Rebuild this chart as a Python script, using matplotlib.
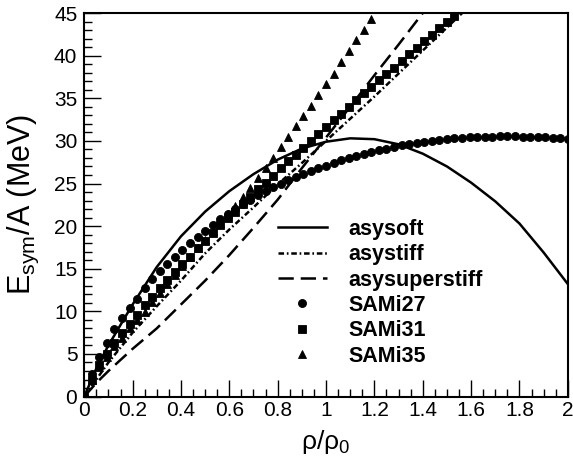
import numpy as np
import matplotlib
matplotlib.use("Agg")
from matplotlib import pyplot as plt
from matplotlib.legend_handler import HandlerLine2D
from matplotlib.ticker import MultipleLocator, FormatStrFormatter

plt.rcParams['font.family'] = ['Liberation Sans', 'DejaVu Sans']
plt.rcParams['mathtext.fontset'] = 'custom'
plt.rcParams['mathtext.rm'] = 'Liberation Sans'
plt.rcParams['mathtext.default'] = 'regular'
plt.rcParams['lines.scale_dashes'] = False

# model curves (rho/rho0, Esym/A in MeV)
rho_soft = [0, 0.05, 0.1, 0.15, 0.2, 0.3, 0.4, 0.5, 0.6, 0.7, 0.8, 0.9, 1.0,
            1.1, 1.2, 1.3, 1.4, 1.5, 1.6, 1.7, 1.8, 1.9, 2.0]
e_soft = [0, 3.3, 6.0, 8.4, 10.8, 15.2, 18.8, 21.7, 24.1, 26.1, 27.8, 29.1, 29.9,
          30.3, 30.2, 29.6, 28.5, 27.0, 25.1, 22.9, 20.3, 16.9, 13.2]

rho_stiff = [0, 0.1, 0.2, 0.3, 0.4, 0.5, 0.6, 0.7, 0.8, 0.9, 1.0, 1.1, 1.2,
             1.3, 1.4, 1.5, 1.6]
e_stiff = [0, 4.0, 7.5, 10.6, 13.6, 16.8, 19.6, 22.2, 24.9, 27.4, 30.0, 32.6, 35.2,
           37.9, 40.6, 43.3, 46.0]

rho_super = [0, 0.05, 0.1, 0.2, 0.3, 0.4, 0.5, 0.6, 0.7, 0.8, 0.9, 1.0, 1.1,
             1.2, 1.3, 1.4, 1.45]
e_super = [0, 1.6, 3.0, 5.6, 8.0, 10.8, 13.6, 16.6, 19.8, 23.1, 26.8, 30.4, 34.0,
           37.7, 41.3, 45.0, 46.8]

# SAMi points, rho/rho0 step 1/32
e_sami27 = [0, 2.7, 4.7, 6.3, 7.9, 9.2, 10.4, 11.5, 12.7, 13.8, 14.7, 15.5, 16.4,
            17.2, 18.0, 18.7, 19.4, 20.1, 20.8, 21.4, 22.0, 22.6, 23.1, 23.6,
            24.1, 24.6, 25.0, 25.4, 25.8, 26.1, 26.5, 26.8, 27.1, 27.4, 27.7,
            27.95, 28.2, 28.45, 28.7, 28.9, 29.1, 29.3, 29.5, 29.6, 29.8, 29.9,
            30.0, 30.1, 30.2, 30.3, 30.35, 30.4, 30.45, 30.5, 30.5, 30.55, 30.55,
            30.55, 30.5, 30.5, 30.45, 30.4, 30.35, 30.3, 30.2]
e_sami31 = [0, 2.0, 3.7, 5.0, 6.3, 7.4, 8.5, 9.6, 10.7, 11.7, 12.7, 13.7, 14.6,
            15.5, 16.4, 17.4, 18.3, 19.2, 20.1, 20.9, 21.7, 22.6, 23.4, 24.3,
            25.1, 25.9, 26.8, 27.6, 28.4, 29.2, 30.0, 30.8, 31.6, 32.4, 33.2,
            34.0, 34.8, 35.6, 36.3, 37.1, 37.9, 38.6, 39.4, 40.2, 40.9, 41.7,
            42.4, 43.2, 43.9, 44.7]
e_sami35 = [0, 2.0, 3.5, 4.7, 5.9, 6.9, 8.0, 9.0, 9.9, 11.1, 12.1, 13.2, 14.3,
            15.3, 16.4, 17.4, 18.4, 19.4, 20.4, 21.4, 22.4, 23.4, 24.5, 25.6,
            26.8, 28.0, 29.3, 30.5, 31.7, 32.9, 34.1, 35.4, 36.7, 37.9, 39.2,
            40.5, 41.8, 43.0, 44.3]

rho27 = np.arange(len(e_sami27)) / 32.
rho31 = np.arange(len(e_sami31)) / 32.
rho35 = np.arange(len(e_sami35)) / 32.


class RightMarker(HandlerLine2D):
    def get_xdata(self, legend, xdescent, ydescent, width, height, fontsize):
        xd, xm = HandlerLine2D.get_xdata(self, legend, xdescent, ydescent, width, height, fontsize)
        return xd, np.array([-xdescent + width])


fig = plt.figure(figsize=(5.73, 4.66), dpi=100)
ax = fig.add_axes([0.147, 0.149, 0.844, 0.823])

ax.plot(rho_soft, e_soft, 'k-', lw=1.8, label='asysoft')
ax.plot(rho_stiff, e_stiff, 'k', lw=1.8, dashes=(4, 2, 1.2, 2), label='asystiff')
ax.plot(rho_super, e_super, 'k', lw=1.8, dashes=(11, 5), label='asysuperstiff')
p27, = ax.plot(rho27, e_sami27, 'ko', ms=5.8, mew=0.6, ls='none', label='SAMi27')
p31, = ax.plot(rho31, e_sami31, 'ks', ms=5.3, mew=0.6, ls='none', label='SAMi31')
p35, = ax.plot(rho35, e_sami35, 'k^', ms=6.2, mew=0.6, ls='none', label='SAMi35')

ax.set_xlim(0, 2)
ax.set_ylim(0, 45)
ax.xaxis.set_major_locator(MultipleLocator(0.2))
ax.xaxis.set_minor_locator(MultipleLocator(0.05))
ax.yaxis.set_major_locator(MultipleLocator(5))
ax.yaxis.set_minor_locator(MultipleLocator(1))
ax.xaxis.set_major_formatter(FormatStrFormatter('%g'))
ax.tick_params(which='both', direction='in', top=False, right=False, labelsize=15, width=1)
ax.tick_params(which='major', length=12)
ax.tick_params(axis='y', which='major', pad=5)
ax.tick_params(axis='x', which='major', pad=3)
ax.tick_params(which='minor', length=6)
for s in ax.spines.values():
    s.set_linewidth(1.5)

ax.set_xlabel('ρ/ρ$_0$', fontsize=19, labelpad=6)
ax.set_ylabel('E$_{sym}$/A (MeV)', fontsize=22, labelpad=9)

hm = RightMarker(numpoints=1)
ax.legend(frameon=False, loc='upper left', bbox_to_anchor=(0.4, 0.463),
          prop={'weight': 'bold', 'size': 15.5}, handlelength=2.3,
          handletextpad=1.0, labelspacing=0.2, borderpad=0, borderaxespad=0,
          numpoints=1, handler_map={p27: hm, p31: hm, p35: hm})

fig.savefig('out.png', dpi=100)
